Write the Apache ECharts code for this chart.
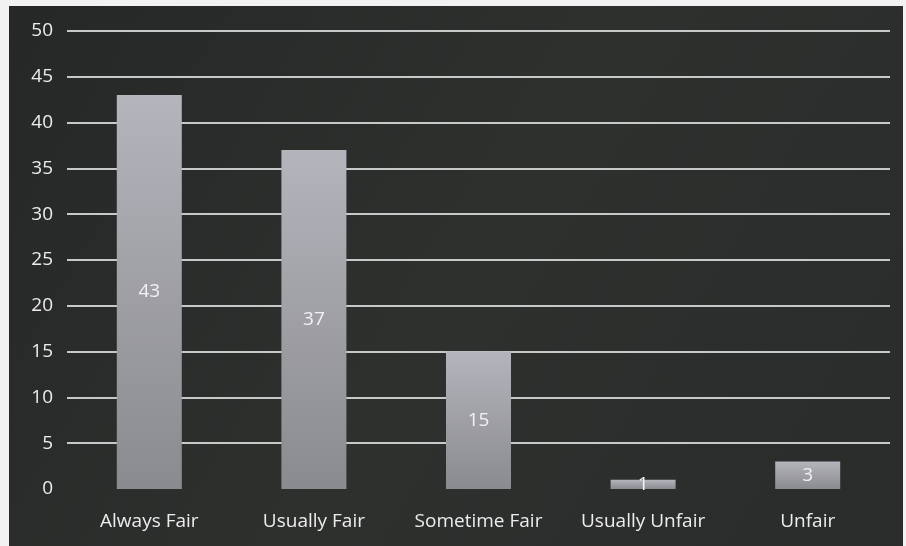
<!DOCTYPE html>
<html>
<head>
<meta charset="utf-8">
<script src="https://cdn.jsdelivr.net/npm/echarts@6/dist/echarts.min.js"></script>
<style>
  html, body { margin: 0; padding: 0; background: #f2f2f2; }
  #chart { position: absolute; left: 9px; top: 6px; width: 894px; height: 540px; }
</style>
</head>
<body>
<div id="chart"></div>
<script>
  // categories and counts
  const categories = ['Always Fair', 'Usually Fair', 'Sometime Fair', 'Usually Unfair', 'Unfair']
  const counts = [43, 37, 15, 1, 3]

  const myChart = echarts.init(document.getElementById('chart'))
  const option = {
    backgroundColor: new echarts.graphic.LinearGradient(0, 0, 1, 1, [
      { offset: 0, color: '#262827' },
      { offset: 0.5, color: '#2e302e' },
      { offset: 1, color: '#2a2c2b' }
    ]),
    animation: false,
    grid: {
      left: 58,
      right: 13,
      top: 25,
      bottom: 57
    },
    xAxis: {
      type: 'category',
      data: categories,
      axisLine: { show: false },
      axisTick: { show: false },
      axisLabel: {
        interval: 0,
        hideOverlap: false,
        color: '#ececec',
        fontSize: 19,
        fontFamily: 'Open Sans',
        margin: 23
      }
    },
    yAxis: {
      type: 'value',
      min: 0,
      max: 50,
      interval: 5,
      axisLine: { show: false },
      axisTick: { show: false },
      axisLabel: {
        color: '#ececec',
        fontSize: 19,
        fontFamily: 'Open Sans',
        margin: 14
      },
      splitLine: {
        showMinLine: false,
        lineStyle: { color: '#c8c8c8', width: 2 }
      }
    },
    series: [
      {
        type: 'bar',
        data: counts,
        barWidth: 65,
        itemStyle: {
          color: new echarts.graphic.LinearGradient(0, 0, 0, 1, [
            { offset: 0, color: '#b4b4bc' },
            { offset: 1, color: '#8a8b8f' }
          ])
        },
        label: {
          show: true,
          position: 'inside',
          color: '#f2f2f2',
          fontSize: 19,
          fontFamily: 'Open Sans'
        }
      }
    ]
  }
  myChart.setOption(option)
</script>
</body>
</html>
